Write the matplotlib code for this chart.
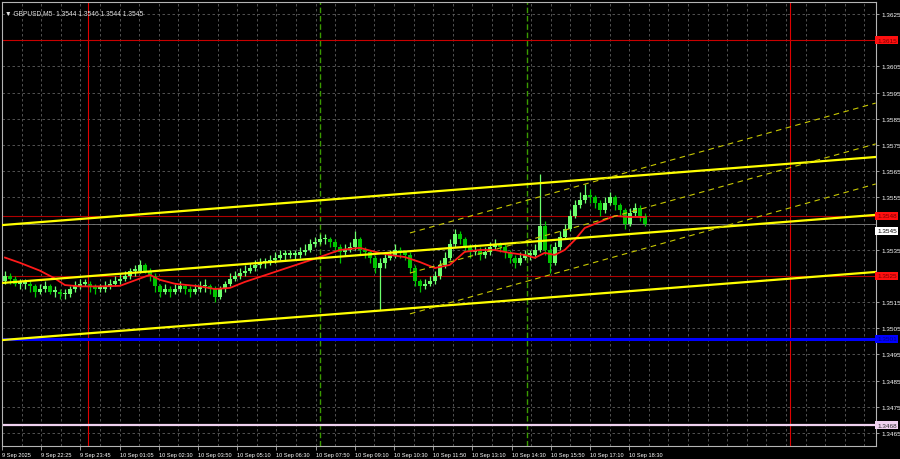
import numpy as np
import matplotlib
matplotlib.use("Agg")
import matplotlib.pyplot as plt
import matplotlib.transforms as mtransforms

plt.rcParams['font.family'] = ['Liberation Sans', 'DejaVu Sans']

closes = [1.3525,1.3524,1.3522,1.3522,1.3522,1.3521,1.3519,1.3520,1.3521,1.3519,
          1.3519,1.3518,1.3518,1.3520,1.3521,1.3522,1.3522,1.3521,1.3520,1.3520,
          1.3521,1.3522,1.3523,1.3524,1.3525,1.3527,1.3527,1.3529,1.3527,1.3525,
          1.3521,1.3519,1.3520,1.3519,1.3520,1.3521,1.3520,1.3519,1.3520,1.3521,
          1.3521,1.3520,1.3517,1.3520,1.3522,1.3524,1.3525,1.3526,1.3527,1.3528,
          1.3529,1.3530,1.3530,1.3531,1.3532,1.3533,1.3533,1.3533,1.3533,1.3534,
          1.3535,1.3537,1.3538,1.3539,1.3539,1.3538,1.3536,1.3534,1.3535,1.3536,
          1.3539,1.3535,1.3534,1.3532,1.3528,1.3530,1.3532,1.3533,1.3535,1.3534,
          1.3533,1.3528,1.3523,1.3521,1.3522,1.3523,1.3525,1.3529,1.3532,1.3537,
          1.3541,1.3539,1.3536,1.3534,1.3535,1.3533,1.3534,1.3536,1.3537,1.3536,
          1.3534,1.3532,1.3530,1.3532,1.3533,1.3533,1.3535,1.3544,1.3535,1.3530,
          1.3536,1.3540,1.3543,1.3548,1.3552,1.3554,1.3556,1.3555,1.3553,1.3550,
          1.3553,1.3555,1.3552,1.3550,1.3545,1.3549,1.3551,1.3548,1.3545]
highs = [1.3527,1.3526,1.3525,1.3524,1.3524,1.3523,1.3522,1.3522,1.3523,1.3522,
         1.3521,1.3520,1.3520,1.3521,1.3523,1.3524,1.3524,1.3523,1.3522,1.3522,
         1.3523,1.3524,1.3525,1.3526,1.3527,1.3528,1.3529,1.3531,1.3530,1.3528,
         1.3526,1.3522,1.3522,1.3521,1.3522,1.3523,1.3522,1.3521,1.3522,1.3523,
         1.3524,1.3522,1.3521,1.3521,1.3523,1.3526,1.3527,1.3528,1.3529,1.3530,
         1.3531,1.3532,1.3532,1.3533,1.3534,1.3535,1.3535,1.3535,1.3535,1.3536,
         1.3537,1.3539,1.3540,1.3541,1.3541,1.3540,1.3539,1.3537,1.3537,1.3538,
         1.3542,1.3540,1.3536,1.3535,1.3533,1.3532,1.3534,1.3535,1.3537,1.3536,
         1.3535,1.3534,1.3529,1.3524,1.3524,1.3525,1.3527,1.3531,1.3534,1.3539,
         1.3543,1.3542,1.3540,1.3537,1.3537,1.3536,1.3536,1.3538,1.3539,1.3538,
         1.3537,1.3535,1.3533,1.3534,1.3535,1.3535,1.3537,1.3564,1.3546,1.3537,
         1.3538,1.3542,1.3545,1.3550,1.3554,1.3557,1.3560,1.3558,1.3556,1.3554,
         1.3555,1.3557,1.3556,1.3553,1.3551,1.3551,1.3553,1.3552,1.3549]
lows = [1.3522,1.3522,1.3521,1.3520,1.3520,1.3519,1.3517,1.3518,1.3519,1.3518,
        1.3517,1.3516,1.3516,1.3517,1.3519,1.3520,1.3521,1.3519,1.3518,1.3519,
        1.3519,1.3520,1.3521,1.3522,1.3523,1.3524,1.3525,1.3526,1.3526,1.3523,
        1.3519,1.3517,1.3518,1.3517,1.3518,1.3519,1.3518,1.3517,1.3518,1.3519,
        1.3519,1.3518,1.3515,1.3516,1.3519,1.3521,1.3523,1.3524,1.3525,1.3526,
        1.3527,1.3528,1.3528,1.3529,1.3530,1.3531,1.3531,1.3532,1.3531,1.3532,
        1.3533,1.3534,1.3536,1.3537,1.3537,1.3536,1.3534,1.3530,1.3533,1.3534,
        1.3535,1.3533,1.3532,1.3530,1.3526,1.3512,1.3528,1.3531,1.3532,1.3532,
        1.3531,1.3526,1.3521,1.3519,1.3520,1.3521,1.3522,1.3524,1.3528,1.3531,
        1.3536,1.3537,1.3534,1.3532,1.3533,1.3531,1.3532,1.3533,1.3535,1.3534,
        1.3532,1.3530,1.3528,1.3529,1.3531,1.3531,1.3532,1.3534,1.3533,1.3526,
        1.3529,1.3535,1.3539,1.3542,1.3547,1.3551,1.3553,1.3553,1.3551,1.3548,
        1.3549,1.3552,1.3550,1.3548,1.3543,1.3544,1.3548,1.3546,1.3544]
first_open = 1.3523

# moving average (red line), candle index -> price
ma_idx = [0, 3, 7, 10, 12, 15, 19, 23, 27, 29, 31, 34, 39, 42, 45, 48, 51, 54, 57, 60,
          63, 67, 71, 74, 77, 80, 83, 86, 89, 92, 95, 98, 101, 104, 106, 108, 110, 112,
          114, 116, 119, 122, 125, 128]
ma_val = [1.3532, 1.3530, 1.3527, 1.3524, 1.35215, 1.3521, 1.3521, 1.35212, 1.3524, 1.35254,
          1.35235, 1.3522, 1.3521, 1.3520, 1.35204, 1.35227, 1.35246, 1.35265, 1.35284, 1.35303,
          1.35322, 1.35349, 1.35357, 1.35342, 1.3533, 1.35322, 1.35303, 1.3528, 1.35292, 1.35342,
          1.35349, 1.35349, 1.35338, 1.3533, 1.35319, 1.35338, 1.3533, 1.35349,
          1.35387, 1.35433, 1.35456, 1.35479, 1.35475, 1.35475]

# horizontal levels
levels = [1.3615, 1.3548, 1.3525, 1.3501, 1.3468]
level_colors = ['#c80000', '#b00000', '#b00000', '#0000ff', '#f0d2f0']
level_widths = [0.8, 0.8, 0.8, 2.2, 1.6]
box_colors = ['#ff1010', '#ff1010', '#ff1010', '#0000ff', '#f0d2f0']
box_text = ['#7a0000', '#7a0000', '#7a0000', '#000080', '#303030']
last_price = 1.3545

# trend channel (left edge price, right edge price)
trend_left = [1.35444, 1.35223, 1.35005]
trend_right = [1.35704, 1.35483, 1.35265]
# regression channel (start price, end price)
reg_start = [1.35414, 1.35261, 1.35105]
reg_end = [1.3591, 1.35754, 1.35601]

time_labels = ['9 Sep 2025', '9 Sep 22:25', '9 Sep 23:45', '10 Sep 01:05', '10 Sep 02:30',
               '10 Sep 03:50', '10 Sep 05:10', '10 Sep 06:30', '10 Sep 07:50', '10 Sep 09:10',
               '10 Sep 10:30', '10 Sep 11:50', '10 Sep 13:10', '10 Sep 14:30', '10 Sep 15:50',
               '10 Sep 17:10', '10 Sep 18:30']
price_ticks = [1.3625, 1.3605, 1.3595, 1.3585, 1.3575, 1.3565, 1.3555, 1.3535,
               1.3515, 1.3505, 1.3495, 1.3485, 1.3475, 1.3465]

# layout in M5 bars
xmax = 356.6
step = 2.04
x0 = 1.2
ymin, ymax = 1.346005, 1.362958

fig = plt.figure(figsize=(9, 4.6), dpi=100, facecolor='black')
ax = fig.add_axes([2/900, 13/460, 873.7/900, 444/460])
ax.set_facecolor('black')
ax.set_xlim(0, xmax)
ax.set_ylim(ymin, ymax)

grid_kw = dict(color='#5e5e5e', lw=0.6, ls=(0, (3, 3)), zorder=0)
for p in np.arange(1.3465, 1.3630, 0.0010):
    ax.axhline(p, **grid_kw)
for b in np.arange(8, xmax, 8):
    ax.axvline(b, **grid_kw)

# day separators and session lines
for b in [35.1, 321.6]:
    ax.axvline(b, color='#e00000', lw=0.8, zorder=1)
for b in [129.8, 214.3]:
    ax.axvline(b, color='#3a9a00', lw=1.0, ls=(0, (4, 2)), zorder=1)

for p, c, w in zip(levels, level_colors, level_widths):
    ax.axhline(p, color=c, lw=w, zorder=2)
ax.axhline(last_price, color='#7a7a7a', lw=0.6, zorder=2)

# candles
n = len(closes)
xs = x0 + step * np.arange(n)
opens = [first_open] + closes[:-1]
for x, o, h, l, c in zip(xs, opens, highs, lows, closes):
    col = '#6cff6c' if c >= o else '#00c400'
    ax.vlines(x, l, h, color=col, lw=0.9, zorder=3)
    bot = min(o, c)
    ht = max(abs(c - o), 0.00006)
    ax.bar(x, ht, width=1.5, bottom=bot, color=col, lw=0, zorder=3)

ax.plot(x0 + step * np.array(ma_idx), ma_val, color='#ff1a1a', lw=1.3, zorder=4)

for a, b in zip(trend_left, trend_right):
    ax.plot([0, xmax], [a, b], color='#ffff00', lw=1.6, zorder=5)
for a, b in zip(reg_start, reg_end):
    ax.plot([166.5, xmax], [a, b], color='#c8c800', lw=0.8, ls=(0, (5, 4)), zorder=5)

for s in ax.spines.values():
    s.set_color('#b4b4b4')
    s.set_linewidth(0.8)

ax.set_xticks(np.arange(len(time_labels)) * 16)
ax.set_xticklabels(time_labels)
ax.tick_params(axis='x', colors='#b4b4b4', labelcolor='white', length=3, width=0.6,
               labelsize=4.1, pad=1.5)
for t in ax.get_xticklabels():
    t.set_ha('left')

ax.yaxis.tick_right()
ax.set_yticks(price_ticks)
ax.set_yticklabels(['%.4f' % p for p in price_ticks])
ax.tick_params(axis='y', colors='#b4b4b4', labelcolor='white', length=2.5, width=0.6,
               labelsize=4.6, pad=1.5)

tr = mtransforms.blended_transform_factory(ax.transAxes, ax.transData)
for p, fc, tc in zip(levels, box_colors, box_text):
    ax.text(1.0015, p, '%.4f' % p, transform=tr, fontsize=4.6, color=tc, va='center',
            ha='left', clip_on=False,
            bbox=dict(boxstyle='square,pad=0.25', fc=fc, ec='none'), zorder=6)
ax.text(1.0015, last_price - 0.00028, '%.4f' % last_price, transform=tr, fontsize=4.6,
        color='black', va='center', ha='left', clip_on=False,
        bbox=dict(boxstyle='square,pad=0.25', fc='white', ec='none'), zorder=6)

ax.text(0.004, 0.985, '\u25bc GBPUSD,M5  1.3544 1.3546 1.3544 1.3545', transform=ax.transAxes,
        fontsize=4.8, color='#e0e0e0', va='top', ha='left')

fig.savefig('out.png', dpi=100, facecolor='black')
